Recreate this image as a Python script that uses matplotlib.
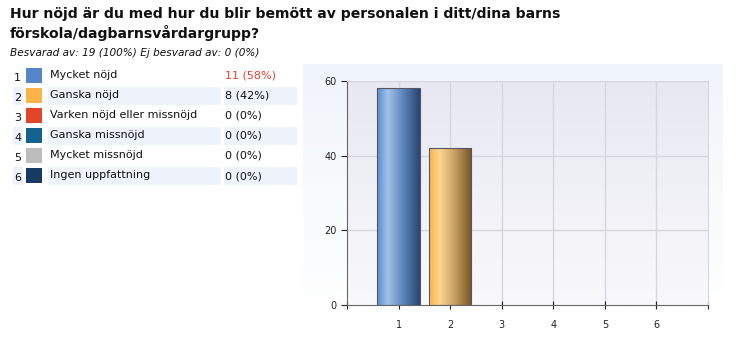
import numpy as np
import matplotlib.pyplot as plt
from matplotlib.colors import LinearSegmentedColormap
from matplotlib.patches import Rectangle

# data
nums = [1, 2, 3, 4, 5, 6]
labels = ['Mycket nöjd', 'Ganska nöjd', 'Varken nöjd eller missnöjd',
          'Ganska missnöjd', 'Mycket missnöjd', 'Ingen uppfattning']
counts = [11, 8, 0, 0, 0, 0]
percents = [58, 42, 0, 0, 0, 0]
swatches = ['#5586c8', '#fbb447', '#e2452a', '#16628f', '#bdbdbd', '#183a63']
grads = [['#5a8ccd', '#a3c2e8', '#5f86bd', '#28466f'],
         ['#f8b64d', '#fdd592', '#c79f63', '#765422']]
title = ['Hur nöjd är du med hur du blir bemött av personalen i ditt/dina barns',
         'förskola/dagbarnsvårdargrupp?']
subtitle = 'Besvarad av: 19 (100%) Ej besvarad av: 0 (0%)'

W, H = 747, 364
fig = plt.figure(figsize=(W / 100, H / 100), dpi=100)
fig.patch.set_facecolor('white')


def fx(px):
    return px / W


def fy(py):
    return 1 - py / H


# title
fig.text(fx(10), fy(14), title[0], fontsize=10.1, fontweight='bold', va='center', color='#111111')
fig.text(fx(10), fy(33), title[1], fontsize=10.1, fontweight='bold', va='center', color='#111111')
fig.text(fx(10), fy(53), subtitle, fontsize=7.6, style='italic', va='center', color='#111111')

# legend table
for i in range(len(labels)):
    top = 66 + 20 * i
    yc = fy(top + 10)
    if i % 2 == 1:
        for x0, x1 in [(13, 23), (48, 221), (224, 297)]:
            fig.patches.append(Rectangle((fx(x0), fy(top + 19)), fx(x1) - fx(x0), 18 / H,
                                         transform=fig.transFigure, facecolor='#eef3fb',
                                         edgecolor='none'))
    fig.patches.append(Rectangle((fx(26), fy(top + 17)), fx(16), 15 / H,
                                 transform=fig.transFigure, facecolor=swatches[i],
                                 edgecolor='none'))
    fig.text(fx(14), yc - 0.006, str(nums[i]), fontsize=8, va='center', color='#111111')
    fig.text(fx(50), yc + 0.004, labels[i], fontsize=8, va='center', color='#111111')
    col = '#e8402a' if i == 0 else '#111111'
    fig.text(fx(225), yc, '%d (%d%%)' % (counts[i], percents[i]), fontsize=8,
             va='center', color=col)

# outer panel gradient
panel = fig.add_axes([fx(303), fy(318), fx(420), 254 / H], zorder=0)
panel.imshow(np.linspace(0, 1, 100).reshape(-1, 1), aspect='auto',
             cmap=LinearSegmentedColormap.from_list('p', ['#f0f4fb', '#f8fafd', '#ffffff']),
             extent=[0, 1, 0, 1])
panel.axis('off')

# chart
ax = fig.add_axes([fx(347), fy(305), fx(361), 224 / H], zorder=1)
ax.imshow(np.linspace(0, 1, 100).reshape(-1, 1), aspect='auto', origin='upper',
          cmap=LinearSegmentedColormap.from_list('bg', ['#e8e8f2', '#f9f9fc']),
          extent=[0, 7, 0, 60], zorder=0)
for x in nums:
    ax.axvline(x, color='#d6d6de', lw=1, zorder=1)
for y in [20, 40, 60]:
    ax.axhline(y, color='#d6d6de', lw=1, zorder=1)

bars = ax.bar(nums, percents, width=0.82, color='none', edgecolor='#555566',
              linewidth=0.8, zorder=3)
for b, p in zip(bars, percents):
    if p == 0:
        b.set_edgecolor('none')
for b, g in zip(list(bars)[:2], grads):
    cm = LinearSegmentedColormap.from_list('b', list(zip([0, 0.25, 0.6, 1], g)))
    im = ax.imshow(np.linspace(0, 1, 100).reshape(1, -1), aspect='auto', cmap=cm,
                   extent=[b.get_x(), b.get_x() + b.get_width(), 0, b.get_height()],
                   zorder=2)
    im.set_clip_path(b)
ax.set_xlim(0, 7)
ax.set_ylim(0, 60)

ax.set_xticks(range(0, 8))
ax.set_xticklabels([''] + [str(n) for n in nums] + [''])
ax.set_yticks([0, 20, 40, 60])
ax.tick_params(axis='both', labelsize=7, colors='#222222', length=4, width=0.8)
ax.tick_params(axis='x', direction='inout', length=6, pad=8)
for s in ['left', 'bottom']:
    ax.spines[s].set_color('#666666')
for s in ['top', 'right']:
    ax.spines[s].set_color('#d6d6de')

fig.savefig('out.png', dpi=100)
